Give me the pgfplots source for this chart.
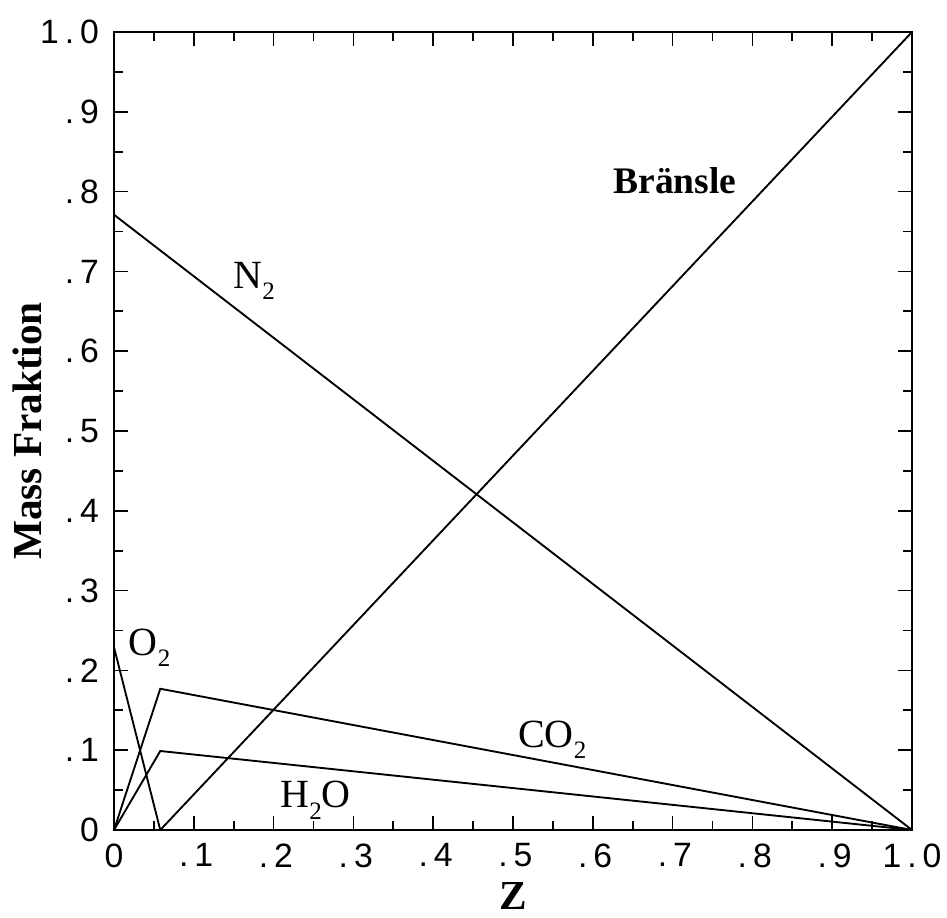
\documentclass[border=0pt]{standalone}
\usepackage{fontspec}
\setmainfont{Liberation Serif}
\newfontfamily\tickfont{Liberation Sans}
\usepackage{pgfplots}
\pgfplotsset{compat=1.18}
\newcommand{\cc}[1]{\makebox[8pt]{#1}}
\newcommand{\sub}[1]{\raisebox{-4.5pt}{\fontsize{10}{10}\selectfont #1}}
\begin{document}
\begin{tikzpicture}
\begin{axis}[
  at={(0,0)}, anchor=south west,
  width=319.2pt, height=319.2pt, scale only axis,
  xmin=0, xmax=1, ymin=0, ymax=1,
  axis line style={line width=0.8pt},
  xtick={0,0.1,0.2,0.3,0.4,0.5,0.6,0.7,0.8,0.9,1},
  ytick={0,0.1,0.2,0.3,0.4,0.5,0.6,0.7,0.8,0.9,1},
  xticklabels={\cc{0},\cc{.}\cc{1},\cc{.}\cc{2},\cc{.}\cc{3},\cc{.}\cc{4},\cc{.}\cc{5},\cc{.}\cc{6},\cc{.}\cc{7},\cc{.}\cc{8},\cc{.}\cc{9},\cc{1}\cc{.}\cc{0}},
  yticklabels={\cc{0},\cc{.}\cc{1},\cc{.}\cc{2},\cc{.}\cc{3},\cc{.}\cc{4},\cc{.}\cc{5},\cc{.}\cc{6},\cc{.}\cc{7},\cc{.}\cc{8},\cc{.}\cc{9},\cc{1}\cc{.}\cc{0}},
  minor tick num=1,
  tick align=inside,
  xtick pos=both, ytick pos=both,
  major tick length=5.6pt, minor tick length=3.6pt,
  every tick/.style={black, line width=0.7pt},
  tick label style={font=\tickfont\fontsize{13.5}{13.5}\selectfont, inner sep=0pt},
  xticklabel style={anchor=north, yshift=-5.2pt},
  yticklabel style={anchor=east, xshift=-5.6pt},
  xlabel={\bfseries\fontsize{16.5}{16.5}\selectfont Z},
  ylabel={\bfseries\fontsize{16.5}{16.5}\selectfont Mass Fraktion},
  xlabel style={at={(axis description cs:0.5,-0.083)}, anchor=center, inner sep=0pt},
  ylabel style={at={(axis description cs:-0.109,0.5)}, anchor=center, inner sep=0pt},
  clip=false,
]
% O2
\addplot[black, line width=0.75pt] coordinates {(0,0.229) (0.058,0)};
% Fuel
\addplot[black, line width=0.75pt] coordinates {(0.058,0) (1,1)};
% N2
\addplot[black, line width=0.75pt] coordinates {(0,0.771) (1,0)};
% CO2
\addplot[black, line width=0.75pt] coordinates {(0,0) (0.058,0.177) (1,0)};
% H2O
\addplot[black, line width=0.75pt] coordinates {(0,0) (0.058,0.099) (1,0)};
\node[anchor=base, inner sep=0pt, font=\bfseries\fontsize{15}{15}\selectfont] at (axis cs:0.703,0.798) {Bränsle};
\node[anchor=base west, inner sep=0pt, font=\fontsize{16}{16}\selectfont] at (axis cs:0.149,0.679) {N\sub{2}};
\node[anchor=base west, inner sep=0pt, font=\fontsize{16}{16}\selectfont] at (axis cs:0.018,0.219) {O\sub{2}};
\node[anchor=base west, inner sep=0pt, font=\fontsize{16}{16}\selectfont] at (axis cs:0.506,0.104) {CO\sub{2}};
\node[anchor=base west, inner sep=0pt, font=\fontsize{16}{16}\selectfont] at (axis cs:0.208,0.0276) {H\sub{2}O};
\end{axis}
\path (-45.6pt,-34.8pt) rectangle (333.2pt,332pt);
\end{tikzpicture}
\end{document}
